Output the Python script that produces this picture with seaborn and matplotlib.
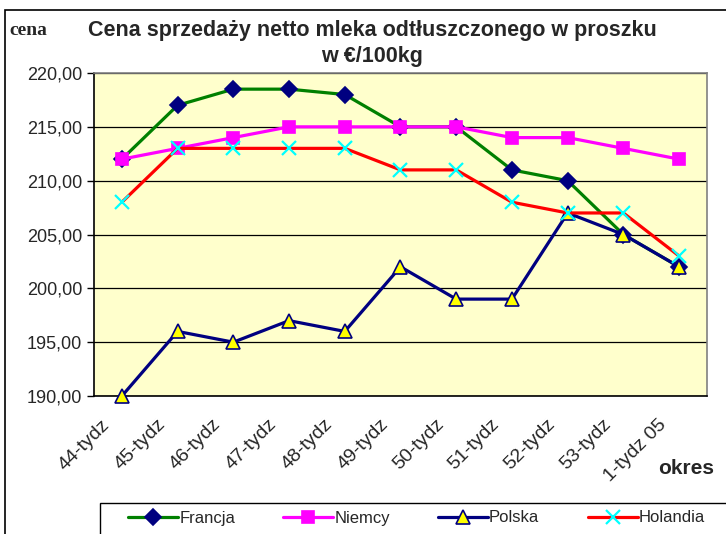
import matplotlib
matplotlib.use("Agg")
import matplotlib.pyplot as plt
import matplotlib.transforms as mtransforms
import numpy as np
import pandas as pd
import seaborn as sns
from matplotlib.patches import Rectangle
from matplotlib.ticker import FuncFormatter

weeks = ["44-tydz", "45-tydz", "46-tydz", "47-tydz", "48-tydz", "49-tydz",
         "50-tydz", "51-tydz", "52-tydz", "53-tydz", "1-tydz 05"]
francja = [212, 217, 218.5, 218.5, 218, 215, 215, 211, 210, 205, 202]
niemcy = [212, 213, 214, 215, 215, 215, 215, 214, 214, 213, 212]
polska = [190, 196, 195, 197, 196, 202, 199, 199, 207, 205, 202]
holandia = [208, 213, 213, 213, 213, 211, 211, 208, 207, 207, 203]

series = [
    # name, values, line colour, marker, size, face, edge
    ("Francja", francja, "#008000", "D", 8, "#000080", "#000080"),
    ("Niemcy", niemcy, "#FF00FF", "s", 9, "#FF00FF", "#FF00FF"),
    ("Polska", polska, "#000080", "^", 9.5, "#FFFF00", "#000080"),
    ("Holandia", holandia, "#FF0000", "x", 10, "#00FFFF", "#00FFFF"),
]

sns.set_style("white")
plt.rcParams["font.family"] = ["Liberation Sans", "DejaVu Sans"]

fig = plt.figure(figsize=(7.26, 5.34), dpi=100)
ax = fig.add_axes([0.1295, 0.2584, 0.9738 - 0.1295, 0.8633 - 0.2584])
ax.set_facecolor("#FFFFCC")

x = np.arange(len(weeks))
for name, vals, lc, mk, ms, mf, me in series:
    df = pd.DataFrame({"x": x, "y": vals})
    sns.lineplot(data=df, x="x", y="y", ax=ax, color=lc, linewidth=2.3,
                 marker=mk, markersize=ms,
                 markerfacecolor=mf, markeredgecolor=me,
                 markeredgewidth=1.2 if mk != "x" else 1.6,
                 label=name, clip_on=False, zorder=3)

ax.set_xlim(-0.5, len(weeks) - 0.5)
ax.set_ylim(190, 220)
ax.set_yticks(np.arange(190, 221, 5))
ax.yaxis.set_major_formatter(FuncFormatter(lambda v, p: f"{v:.2f}".replace(".", ",")))
ax.yaxis.grid(True, color="black", linewidth=0.9)
ax.set_axisbelow(True)
ax.set_xticks(x)
ax.set_xticklabels(weeks, rotation=45, ha="right", va="top", rotation_mode="anchor", fontsize=14)
ax.set_xticks(np.arange(-0.5, len(weeks)), minor=True)
ax.tick_params(axis="x", which="major", length=0, pad=0)
ax.tick_params(axis="x", which="minor", length=5, width=1, color="black", direction="out")
ax.tick_params(axis="y", length=5, width=1, color="black", direction="out", labelsize=13, left=True)
shift = mtransforms.ScaledTranslation(-0.21, -0.20, fig.dpi_scale_trans)
for lab in ax.get_xticklabels():
    lab.set_transform(lab.get_transform() + shift)
ax.set_xlabel("")
ax.set_ylabel("")
for side in ["left", "bottom"]:
    ax.spines[side].set_color("black")
    ax.spines[side].set_linewidth(1.2)
for side in ["top", "right"]:
    ax.spines[side].set_color("#808080")
    ax.spines[side].set_linewidth(1.2)

fig.text(0.513, 0.943, "Cena sprzedaży netto mleka odtłuszczonego w proszku",
         ha="center", va="center", fontsize=15.5, fontweight="bold")
fig.text(0.513, 0.895, "w €/100kg", ha="center", va="center", fontsize=15.5, fontweight="bold")
fig.text(0.013, 0.943, "cena", ha="left", va="center", fontsize=14, fontweight="bold",
         family=["Liberation Serif", "DejaVu Serif"])
fig.text(0.945, 0.122, "okres", ha="center", va="center", fontsize=15, fontweight="bold")

# outer chart frame
fig.patches.append(Rectangle((0.007, -0.01), 1.1, 0.991, transform=fig.transFigure,
                             fill=False, edgecolor="black", linewidth=1.2))
# legend frame running off the page like the original
fig.patches.append(Rectangle((100 / 726, -0.01), 1.0, (534 - 503) / 534 + 0.01,
                             transform=fig.transFigure, fill=False,
                             edgecolor="black", linewidth=1.0))

leg = ax.legend(loc="center left", bbox_to_anchor=(120 / 726, (534 - 518) / 534),
                bbox_transform=fig.transFigure, ncol=4, frameon=False,
                fontsize=12, handlelength=3.0, handletextpad=0.05,
                columnspacing=2.9, borderpad=0)

fig.savefig("out.png", dpi=100)
